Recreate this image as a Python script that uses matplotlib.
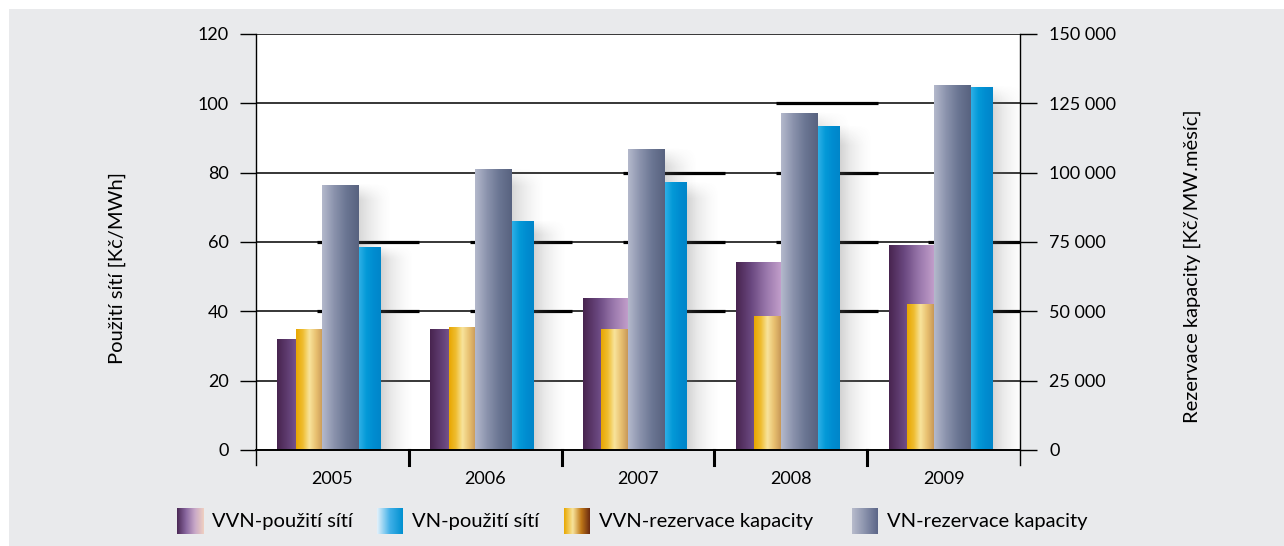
import numpy as np
import matplotlib
matplotlib.use("Agg")
import matplotlib.pyplot as plt
from matplotlib.colors import LinearSegmentedColormap
from matplotlib.patches import Rectangle
from matplotlib.ticker import FuncFormatter

plt.rcParams["font.family"] = ["Lato", "DejaVu Sans"]

# --- data ---
years = ["2005", "2006", "2007", "2008", "2009"]
vvn_use = [31.9, 34.9, 43.6, 54.2, 58.9]            # Kč/MWh (left axis)
vn_use = [58.5, 65.8, 77.1, 93.2, 104.7]            # Kč/MWh (left axis)
vvn_res = [43500, 44000, 43300, 48300, 52300]       # Kč/MW.měsíc (right axis)
vn_res = [95500, 101000, 108500, 121200, 131600]    # Kč/MW.měsíc (right axis)
labels = ["VVN-použití sítí", "VN-použití sítí",
          "VVN-rezervace kapacity", "VN-rezervace kapacity"]
left_ticks = [0, 20, 40, 60, 80, 100, 120]
right_ticks = [0, 25000, 50000, 75000, 100000, 125000, 150000]

W, H = 1284, 546
BG = "#e9eaec"

cm_purple = LinearSegmentedColormap.from_list("p", ["#48244f", "#6a4880", "#9a78ac", "#c4a0cc"])
cm_gold = LinearSegmentedColormap.from_list("g", ["#e8a600", "#efbd30", "#f8e49c", "#e8c070", "#c89858"])
cm_gray = LinearSegmentedColormap.from_list("s", ["#b4b9cc", "#8a92ac", "#6a7592", "#58627f"])
cm_blue = LinearSegmentedColormap.from_list("b", ["#2eb0e6", "#049ad8", "#008cd0", "#0086c9"])
leg_purple = LinearSegmentedColormap.from_list("lp", ["#4a2855", "#8a68a0", "#c8a8c8", "#f0d0c0"])
leg_blue = LinearSegmentedColormap.from_list("lb", ["#e4f2fb", "#40b0e8", "#0090d0"])
leg_gold = LinearSegmentedColormap.from_list("lg", ["#e8a800", "#f8e49c", "#c07818", "#6a2a10"])
leg_gray = LinearSegmentedColormap.from_list("ls", ["#b8bccc", "#8a92ac", "#5c6688"])

fig = plt.figure(figsize=(W / 100, H / 100), dpi=100, facecolor="white")
fig.patches.append(Rectangle((9 / W, 0), 1, 1 - 9 / H, transform=fig.transFigure,
                             facecolor=BG, edgecolor="none", zorder=-10))


def px(x0, y0, w, h):
    return [x0 / W, 1 - (y0 + h) / H, w / W, h / H]


ax = fig.add_axes(px(256, 34, 764, 416))
ax2 = ax.twinx()
ax2.set_zorder(ax.get_zorder() - 1)
ax.set_zorder(ax2.get_zorder() + 1)
ax.patch.set_visible(False)
ax2.patch.set_visible(True)
ax2.patch.set_facecolor("white")

grad = np.linspace(0, 1, 128).reshape(1, -1)


def gbar(x0, x1, h, cmap, trans, z):
    ax.imshow(grad, cmap=cmap, extent=(x0, x1, 0, h), aspect="auto",
              transform=trans, zorder=z, interpolation="bilinear")


def shadow(x1, h, trans, z):
    nx, ny = 60, 80
    u = np.linspace(0, 1, nx)[None, :]
    v = np.linspace(0, 1, ny)[:, None]  # 0 = top row
    a = 0.28 * (1 - u) ** 1.6 * np.clip(v / 0.06, 0, 1)
    img = np.zeros((ny, nx, 4))
    img[..., :3] = 0.45
    img[..., 3] = a
    ax.imshow(img, extent=(x1, x1 + 0.22, 0, h * 1.01), aspect="auto",
              transform=trans, zorder=z, interpolation="bilinear")


tl, tr = ax.transData, ax2.transData
x = np.arange(len(years))
for i in x:
    shadow(i + 0.177, vn_res[i], tr, 2)
    shadow(i + 0.32, vn_use[i], tl, 2)
    gbar(i - 0.36, i - 0.065, vvn_use[i], cm_purple, tl, 3)
    gbar(i - 0.24, i - 0.065, vvn_res[i], cm_gold, tr, 4)
    gbar(i - 0.065, i + 0.177, vn_res[i], cm_gray, tr, 5)
    gbar(i + 0.177, i + 0.32, vn_use[i], cm_blue, tl, 6)

# gridlines and the heavier back-wall segments
for t in left_ticks[1:]:
    ax.axhline(t, color="black", lw=1.1, zorder=1)
thick = {0: [40, 60], 1: [40, 60], 2: [40, 60, 80], 3: [40, 60, 80, 100], 4: [40, 60]}
for i, lv in thick.items():
    for t in lv:
        ax.plot([i - 0.1, i + 0.57], [t, t], color="black", lw=2.3, zorder=1,
                solid_capstyle="butt")

ax.set_xlim(-0.5, 4.5)
ax.set_ylim(0, 120)
ax2.set_ylim(0, 150000)
ax.set_yticks(left_ticks)
ax2.set_yticks(right_ticks)
ax2.yaxis.set_major_formatter(FuncFormatter(lambda v, p: f"{int(v):,}".replace(",", " ")))
ax.set_xticks(x)
ax.set_xticklabels(years)
ax.tick_params(axis="x", length=0, pad=15, labelsize=13)
ax.tick_params(axis="y", direction="out", length=11.5, width=1, pad=8, labelsize=13)
ax2.tick_params(axis="y", direction="out", length=12, width=1, pad=9, labelsize=13)
for a in (ax, ax2):
    for s in a.spines.values():
        s.set_visible(False)

xt = ax.get_xaxis_transform()
ax.plot([-0.5, -0.5], [-0.036, 1], color="black", lw=1, transform=xt, clip_on=False, zorder=7)
ax.plot([4.5, 4.5], [-0.036, 1], color="black", lw=1, transform=xt, clip_on=False, zorder=7)
ax.plot([-0.5, 4.5], [0, 0], color="black", lw=1.4, transform=xt, clip_on=False, zorder=7)
for b in x[:-1] + 0.5:
    ax.plot([b, b], [-0.036, 0], color="black", lw=2.2, transform=xt, clip_on=False, zorder=7)

fig.text(117 / W, 1 - 268 / H, "Použití sítí [Kč/MWh]", rotation=90,
         ha="center", va="center", fontsize=14.5)
fig.text(1192 / W, 1 - 266 / H, "Rezervace kapacity [Kč/MW.měsíc]", rotation=90,
         ha="center", va="center", fontsize=14.5)

# legend with gradient swatches
sw_x = [177, 377, 564, 852]
sw_cm = [leg_purple, leg_blue, leg_gold, leg_gray]
for lab, sx, cm in zip(labels, sw_x, sw_cm):
    sa = fig.add_axes(px(sx, 508, 26, 26))
    sa.imshow(grad, cmap=cm, aspect="auto", interpolation="bilinear")
    sa.set_axis_off()
    fig.text((sx + 35) / W, 1 - 521 / H, lab, ha="left", va="center", fontsize=14.5)

fig.savefig("out.png", dpi=100, facecolor=fig.get_facecolor())
